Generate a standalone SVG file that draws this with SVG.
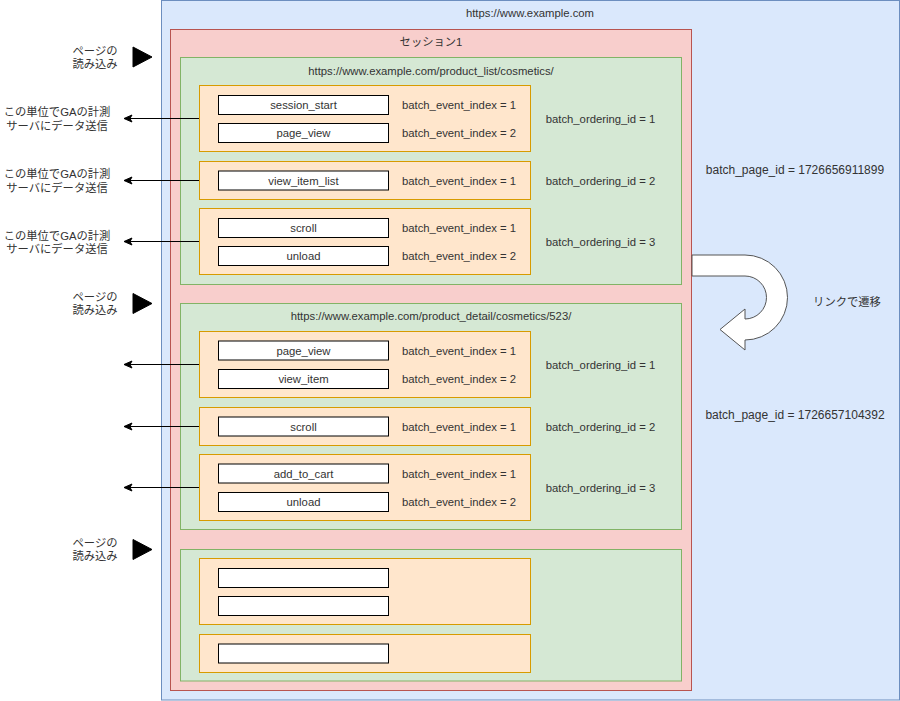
<svg xmlns="http://www.w3.org/2000/svg" width="900" height="701" viewBox="0 0 900 701">
<style>
text{font-family:"Liberation Sans","Noto Sans CJK JP",Arial,sans-serif;font-size:11.3px;fill:#333333;}
.c{text-anchor:middle;}
.big{font-size:12px;}
.blue{fill:#dae8fc;stroke:#6c8ebf;stroke-width:1;}
.red{fill:#f8cecc;stroke:#b85450;stroke-width:1;}
.green{fill:#d5e8d4;stroke:#82b366;stroke-width:1;}
.orange{fill:#ffe6cc;stroke:#d79b00;stroke-width:1;}
.ev{fill:#ffffff;stroke:#000000;stroke-width:1;}
.tri{fill:#000000;stroke:#000000;stroke-width:1;}
.conn{stroke:#000000;stroke-width:1;fill:none;}
</style>
<defs>
<marker id="ah" markerUnits="userSpaceOnUse" markerWidth="9" markerHeight="8" refX="8" refY="3.5" orient="auto" overflow="visible">
<path d="M0,0 L8,3.5 L0,7 L2,3.5 Z" fill="#000000" stroke="#000000" stroke-width="1"/>
</marker>
</defs>

<g id="site">
<rect class="blue" x="161.5" y="0.5" width="738" height="699.5"/>
<text class="c" x="530" y="16.5">https://www.example.com</text>
<text class="c big" x="795" y="174">batch_page_id = 1726656911899</text>
<text class="c big" x="795" y="419">batch_page_id = 1726657104392</text>
</g>

<g id="session">
<rect class="red" x="170.5" y="29.5" width="521" height="661"/>
<text class="c" x="431" y="45.5">セッション1</text>
</g>

<g id="page1">
<rect class="green" x="180.5" y="57.5" width="501" height="227"/>
<text class="c" x="431" y="74.5">https://www.example.com/product_list/cosmetics/</text>
</g>
<g id="p1b1">
<rect class="orange" x="199.5" y="85.5" width="331" height="66"/>
<rect class="ev" x="218.5" y="95.5" width="170" height="19"/>
<text class="c" x="303.5" y="109">session_start</text>
<rect class="ev" x="218.5" y="123.5" width="170" height="19"/>
<text class="c" x="303.5" y="137">page_view</text>
<text class="c" x="459" y="108.5">batch_event_index = 1</text>
<text class="c" x="459" y="137">batch_event_index = 2</text>
<text class="c" x="600.5" y="122.5">batch_ordering_id = 1</text>
</g>
<g id="p1b2">
<rect class="orange" x="199.5" y="161.5" width="331" height="38"/>
<rect class="ev" x="218.5" y="171" width="170" height="19"/>
<text class="c" x="303.5" y="184.5">view_item_list</text>
<text class="c" x="459" y="184.5">batch_event_index = 1</text>
<text class="c" x="600.5" y="184.5">batch_ordering_id = 2</text>
</g>
<g id="p1b3">
<rect class="orange" x="199.5" y="208.5" width="331" height="66"/>
<rect class="ev" x="218.5" y="218.5" width="170" height="19"/>
<text class="c" x="303.5" y="232">scroll</text>
<rect class="ev" x="218.5" y="246.5" width="170" height="19"/>
<text class="c" x="303.5" y="260">unload</text>
<text class="c" x="459" y="231.5">batch_event_index = 1</text>
<text class="c" x="459" y="260">batch_event_index = 2</text>
<text class="c" x="600.5" y="245.5">batch_ordering_id = 3</text>
</g>

<g id="page2">
<rect class="green" x="180.5" y="303.5" width="501" height="226"/>
<text class="c" x="431" y="320">https://www.example.com/product_detail/cosmetics/523/</text>
</g>
<g id="p2b1">
<rect class="orange" x="199.5" y="331.5" width="331" height="66"/>
<rect class="ev" x="218.5" y="341" width="170" height="19"/>
<text class="c" x="303.5" y="354.5">page_view</text>
<rect class="ev" x="218.5" y="369.5" width="170" height="19"/>
<text class="c" x="303.5" y="383">view_item</text>
<text class="c" x="459" y="354.5">batch_event_index = 1</text>
<text class="c" x="459" y="383">batch_event_index = 2</text>
<text class="c" x="600.5" y="368.5">batch_ordering_id = 1</text>
</g>
<g id="p2b2">
<rect class="orange" x="199.5" y="407.5" width="331" height="38"/>
<rect class="ev" x="218.5" y="417" width="170" height="19"/>
<text class="c" x="303.5" y="430.5">scroll</text>
<text class="c" x="459" y="430.5">batch_event_index = 1</text>
<text class="c" x="600.5" y="430.5">batch_ordering_id = 2</text>
</g>
<g id="p2b3">
<rect class="orange" x="199.5" y="454.5" width="331" height="66"/>
<rect class="ev" x="218.5" y="464" width="170" height="19"/>
<text class="c" x="303.5" y="477.5">add_to_cart</text>
<rect class="ev" x="218.5" y="492.5" width="170" height="19"/>
<text class="c" x="303.5" y="506">unload</text>
<text class="c" x="459" y="477.5">batch_event_index = 1</text>
<text class="c" x="459" y="506">batch_event_index = 2</text>
<text class="c" x="600.5" y="491.5">batch_ordering_id = 3</text>
</g>

<g id="page3">
<rect class="green" x="180.5" y="549.5" width="501" height="131.5"/>
</g>
<g id="p3b1">
<rect class="orange" x="199.5" y="558.5" width="331" height="66"/>
<rect class="ev" x="218.5" y="568.5" width="170" height="19"/>
<rect class="ev" x="218.5" y="596.5" width="170" height="19"/>
</g>
<g id="p3b2">
<rect class="orange" x="199.5" y="634.5" width="331" height="38"/>
<rect class="ev" x="218.5" y="644" width="170" height="19"/>
</g>

<g id="load1">
<polygon class="tri" points="133,47 152,57 133,67"/>
<text class="c" x="95" y="54.5">ページの</text>
<text class="c" x="95" y="67.5">読み込み</text>
</g>
<g id="load2">
<polygon class="tri" points="133,293.5 152,303.5 133,313.5"/>
<text class="c" x="95" y="301">ページの</text>
<text class="c" x="95" y="314">読み込み</text>
</g>
<g id="load3">
<polygon class="tri" points="133,539.5 152,549.5 133,559.5"/>
<text class="c" x="95" y="547">ページの</text>
<text class="c" x="95" y="560">読み込み</text>
</g>

<g id="send-labels">
<text class="c" x="57" y="116">この単位でGAの計測</text>
<text class="c" x="57" y="129.5">サーバにデータ送信</text>
<text class="c" x="57" y="178">この単位でGAの計測</text>
<text class="c" x="57" y="191.5">サーバにデータ送信</text>
<text class="c" x="57" y="239.5">この単位でGAの計測</text>
<text class="c" x="57" y="253">サーバにデータ送信</text>
</g>

<g id="transition">
<path d="M692,255 L745,255 A42.5,42.5 0 0 1 745,340 L745,350 L720,329.5 L745,309 L745,319 A21.5,21.5 0 0 0 745,276 L692,276 Z" fill="#ffffff" stroke="#555555" stroke-width="1"/>
<text class="c" x="847" y="306">リンクで遷移</text>
</g>

<g id="connectors">
<line class="conn" x1="199" y1="118.5" x2="124" y2="118.5" marker-end="url(#ah)"/>
<line class="conn" x1="199" y1="180.5" x2="124" y2="180.5" marker-end="url(#ah)"/>
<line class="conn" x1="199" y1="241.5" x2="124" y2="241.5" marker-end="url(#ah)"/>
<line class="conn" x1="199" y1="364.5" x2="124" y2="364.5" marker-end="url(#ah)"/>
<line class="conn" x1="199" y1="426.5" x2="124" y2="426.5" marker-end="url(#ah)"/>
<line class="conn" x1="199" y1="487.5" x2="124" y2="487.5" marker-end="url(#ah)"/>
</g>
</svg>
